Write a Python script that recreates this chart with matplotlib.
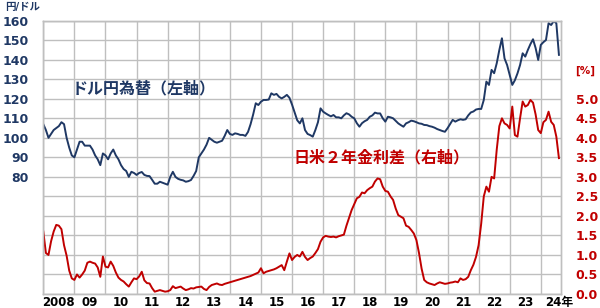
import numpy as np
import pandas as pd
import matplotlib
matplotlib.use("Agg")
import matplotlib.pyplot as plt

plt.rcParams['font.family'] = ['DejaVu Sans', 'Noto Sans CJK JP']

# monthly, Jan 2008 - Aug 2024
dates = pd.date_range('2008-01-01', periods=200, freq='MS')

usdjpy = [
    107, 104, 100, 102, 104, 105, 106, 108, 107, 100, 95, 91,          # 2008
    90, 94, 98, 98, 96, 96, 96, 94, 91, 89, 86, 92,                    # 2009
    91, 89, 92, 94, 91, 89, 86, 84, 83, 80, 82.6, 82,                  # 2010
    81, 82, 82.5, 81, 80.5, 80.4, 78.5, 76.5, 76.5, 77.5, 77, 76.5,    # 2011
    76, 80, 82.6, 80, 79, 78.5, 78.2, 77.5, 77.8, 78.4, 80.5, 83,      # 2012
    90, 92, 94, 96.5, 100, 99, 98, 97.5, 98, 98.5, 101, 104,           # 2013
    102, 101.5, 102.3, 102, 101.5, 101.5, 101, 103, 107, 112, 117.7, 116.8,  # 2014
    118.5, 119.4, 119.4, 119.6, 122.8, 122, 122.5, 121, 120.2, 121, 122, 120.5,  # 2015
    117, 113, 109, 107.4, 110, 104, 102, 101.4, 100.6, 104, 108, 115.1,  # 2016
    113.4, 112.5, 111.7, 111, 111.7, 110.5, 110.5, 110, 111.5, 112.6, 112, 110.8,  # 2017
    110, 107.5, 105.7, 107.5, 108.5, 109.2, 110.8, 111.5, 112.9, 112.5, 112.5, 110,  # 2018
    108.3, 110.8, 110.5, 110, 108.7, 107.4, 106.5, 105.7, 107.4, 108, 108.8, 108.5,  # 2019
    108, 107.4, 107.2, 106.6, 106.5, 106, 105.7, 105.2, 104.5, 104, 103.5, 103.1,  # 2020
    104.9, 107, 109.2, 108.3, 109, 109.5, 109.2, 109.5, 111.5, 113, 113.5, 114.5,  # 2021
    114.8, 114.8, 119.4, 128.8, 127.1, 134.8, 133.1, 138.2, 145, 151, 140.7, 137.3,  # 2022
    132.2, 127.1, 129.5, 133, 137.3, 143.3, 141.6, 145, 148, 150.5, 146, 139.9,  # 2023
    147.6, 149, 150.1, 158.7, 157.8, 159.8, 158.7, 142.5,              # 2024
]

spread = [
    1.60, 1.05, 1.00, 1.35, 1.60, 1.77, 1.75, 1.66, 1.25, 0.98, 0.60, 0.40,  # 2008
    0.36, 0.50, 0.42, 0.50, 0.60, 0.80, 0.83, 0.80, 0.78, 0.68, 0.44, 0.96,  # 2009
    0.70, 0.68, 0.83, 0.72, 0.55, 0.42, 0.36, 0.32, 0.25, 0.19, 0.30, 0.40,  # 2010
    0.38, 0.45, 0.57, 0.35, 0.28, 0.27, 0.15, 0.06, 0.08, 0.10, 0.08, 0.06,  # 2011
    0.07, 0.10, 0.20, 0.15, 0.17, 0.19, 0.14, 0.10, 0.12, 0.15, 0.14, 0.17,  # 2012
    0.18, 0.19, 0.13, 0.10, 0.18, 0.23, 0.25, 0.27, 0.24, 0.23, 0.26, 0.28,  # 2013
    0.30, 0.32, 0.34, 0.36, 0.38, 0.40, 0.42, 0.44, 0.46, 0.49, 0.52, 0.55,  # 2014
    0.66, 0.53, 0.57, 0.59, 0.61, 0.63, 0.66, 0.70, 0.74, 0.61, 0.83, 1.04,  # 2015
    0.87, 0.95, 1.00, 0.96, 1.08, 0.95, 0.87, 0.92, 0.96, 1.05, 1.15, 1.34,  # 2016
    1.45, 1.49, 1.47, 1.46, 1.47, 1.45, 1.48, 1.50, 1.52, 1.75, 1.95, 2.15,  # 2017
    2.30, 2.45, 2.49, 2.60, 2.58, 2.66, 2.71, 2.75, 2.88, 2.96, 2.94, 2.75,  # 2018
    2.64, 2.62, 2.50, 2.41, 2.19, 2.02, 1.98, 1.94, 1.75, 1.72, 1.64, 1.55,  # 2019
    1.38, 1.05, 0.65, 0.36, 0.30, 0.27, 0.25, 0.23, 0.27, 0.30, 0.28, 0.26,  # 2020
    0.27, 0.29, 0.30, 0.32, 0.30, 0.40, 0.36, 0.38, 0.44, 0.61, 0.75, 0.95,  # 2021
    1.25, 1.80, 2.50, 2.75, 2.62, 3.00, 2.96, 3.70, 4.30, 4.50, 4.37, 4.33,  # 2022
    4.24, 4.80, 4.07, 4.03, 4.50, 4.93, 4.80, 4.84, 4.97, 4.90, 4.60, 4.20,  # 2023
    4.12, 4.40, 4.46, 4.67, 4.41, 4.33, 4.03, 3.48,                          # 2024
]

years = list(range(2008, 2025))
year_labels = ['2008', '09', '10', '11', '12', '13', '14', '15', '16',
               '17', '18', '19', '20', '21', '22', '23', '24年']
left_ticks = [80, 90, 100, 110, 120, 130, 140, 150, 160]
right_ticks = [0.0, 0.5, 1.0, 1.5, 2.0, 2.5, 3.0, 3.5, 4.0, 4.5, 5.0]

navy = '#1F3864'
red = '#C00000'
grid = '#BFBFBF'

x = dates.year + (dates.month - 1) / 12

fig = plt.figure(figsize=(6, 3.08), dpi=100)
ax = fig.add_axes([43.3 / 600, 1 - 294 / 308, (561 - 43.3) / 600, (294 - 20.7) / 308])
ax2 = ax.twinx()

ax.plot(x, usdjpy, color=navy, lw=1.4)
ax2.plot(x, spread, color=red, lw=1.4)

ax.set_xlim(2008, 2024.65)
ax.set_ylim(20, 160)
ax2.set_ylim(0, 7)

ax.set_yticks(np.arange(20, 161, 10), minor=True)
ax.set_yticks(left_ticks)
ax.set_yticklabels([str(t) for t in left_ticks], color=navy, fontsize=9, fontweight='bold')
ax2.set_yticks(right_ticks)
ax2.set_yticklabels([f'{t:.1f}' for t in right_ticks], color=red, fontsize=9, fontweight='bold')

ax.set_xticks(years)
ax.set_xticklabels([])
label_pos = [y + 0.5 for y in years[:-1]] + [years[-1] + 0.6]
ax.set_xticks(label_pos, minor=True)
ax.set_xticklabels(year_labels, minor=True, fontsize=8.5, fontweight='bold')

ax.grid(True, which='major', axis='x', color=grid, lw=1)
ax.grid(True, which='both', axis='y', color=grid, lw=1)
ax.tick_params(axis='both', which='both', length=0)
ax.tick_params(axis='y', pad=10.5)
ax.tick_params(axis='x', which='minor', pad=1.5)
ax2.tick_params(axis='y', length=0, pad=10.5)
for a in (ax, ax2):
    for s in a.spines.values():
        s.set_color(grid)
        s.set_linewidth(1)

fig.text(5 / 600, 1 - 7 / 308, '円/ドル', color=navy, fontsize=7.5, fontweight='bold', va='center')
fig.text(575 / 600, 1 - 71 / 308, '[%]', color=red, fontsize=7.5, fontweight='bold', va='center')
fig.text(72 / 600, 1 - 89 / 308, 'ドル円為替（左軸）', color=navy, fontsize=11.5,
         fontweight='bold', va='center')
fig.text(293 / 600, 1 - 158 / 308, '日米２年金利差（右軸）', color=red, fontsize=11.5,
         fontweight='bold', va='center')

fig.savefig('out.png', dpi=100)
